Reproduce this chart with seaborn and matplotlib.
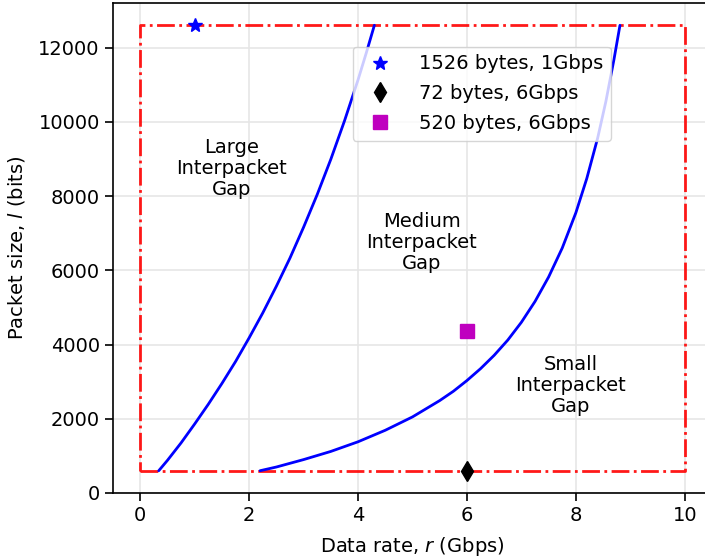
import matplotlib
matplotlib.use("Agg")
import matplotlib.pyplot as plt
import seaborn as sns
import pandas as pd

# Boundary between large and medium interpacket gap (rate in Gbps, size in bits)
large_rate = [0.34, 0.5, 0.75, 1.0, 1.25, 1.5, 1.75, 2.0, 2.25, 2.5, 2.75,
              3.0, 3.25, 3.5, 3.75, 4.0, 4.15, 4.3]
large_size = [600, 880, 1350, 1860, 2390, 2950, 3540, 4180, 4850, 5570, 6330,
              7160, 8040, 8990, 10020, 11130, 11850, 12600]

# Boundary between medium and small interpacket gap
small_rate = [2.2, 2.5, 3.0, 3.5, 4.0, 4.5, 5.0, 5.5, 5.75, 6.0, 6.25, 6.5,
              6.75, 7.0, 7.25, 7.5, 7.75, 8.0, 8.2, 8.4, 8.55, 8.7, 8.81]
small_size = [600, 700, 900, 1120, 1380, 1690, 2050, 2490, 2740, 3030, 3350,
              3710, 4120, 4600, 5160, 5820, 6600, 7550, 8470, 9560, 10540,
              11680, 12600]

# Operating region (dash-dot box)
box_rate = [0, 10, 10, 0, 0]
box_size = [600, 600, 12600, 12600, 600]

# Example traffic points
point_labels = ["1526 bytes, 1Gbps", "72 bytes, 6Gbps", "520 bytes, 6Gbps"]
point_rate = [1, 6, 6]
point_size = [12600, 600, 4360]
point_markers = ["*", "d", "s"]
point_colors = ["b", "k", "m"]

region_labels = ["Large\nInterpacket\nGap", "Medium\nInterpacket\nGap", "Small\nInterpacket\nGap"]
region_rate = [1.67, 5.17, 7.91]
region_size = [8740, 6750, 2900]

sns.set_style("ticks")
plt.rcParams["font.family"] = ["DejaVu Sans"]
plt.rcParams["font.size"] = 14
for key in ["text.color", "axes.labelcolor", "xtick.color", "ytick.color"]:
    plt.rcParams[key] = "black"

fig = plt.figure(figsize=(7.05, 5.6), dpi=100)
ax = fig.add_axes([113 / 705, 67 / 560, 599 / 705, 490 / 560])

ax.grid(True, color="#e6e6e6", linewidth=1.2)
ax.set_axisbelow(True)

sns.lineplot(data=pd.DataFrame({"r": box_rate, "l": box_size}), x="r", y="l",
             sort=False, estimator=None, color="red", linestyle="-.",
             linewidth=2, alpha=0.9, ax=ax)
sns.lineplot(data=pd.DataFrame({"r": large_rate, "l": large_size}), x="r", y="l",
             sort=False, estimator=None, color="blue", linewidth=2, ax=ax)
sns.lineplot(data=pd.DataFrame({"r": small_rate, "l": small_size}), x="r", y="l",
             sort=False, estimator=None, color="blue", linewidth=2, ax=ax)

for lab, r, l, m, c in zip(point_labels, point_rate, point_size, point_markers, point_colors):
    ax.plot([r], [l], linestyle="none", marker=m, color=c, markersize=10,
            label=lab, zorder=5)

for txt, r, l in zip(region_labels, region_rate, region_size):
    ax.text(r, l, txt, ha="center", va="center", fontsize=14,
            linespacing=1.15)

ax.set_xlim(-0.5, 10.5)
ax.set_ylim(0, 13200)
ax.set_xticks([0, 2, 4, 6, 8, 10])
ax.set_yticks([0, 2000, 4000, 6000, 8000, 10000, 12000])
ax.set_xlabel("Data rate, $r$ (Gbps)", fontsize=14, labelpad=7)
ax.set_ylabel("Packet size, $l$ (bits)", fontsize=14, labelpad=8)
ax.tick_params(labelsize=14, length=6, width=1.2, color="black")
for side in ["left", "bottom", "top", "right"]:
    ax.spines[side].set_visible(True)
    ax.spines[side].set_color("black")
    ax.spines[side].set_linewidth(1.2)

ax.legend(loc="upper left", bbox_to_anchor=(0.400, 0.911), borderaxespad=0,
          fontsize=14, framealpha=0.8, handletextpad=1.0, labelspacing=0.55)

fig.savefig("out.png", dpi=100)
